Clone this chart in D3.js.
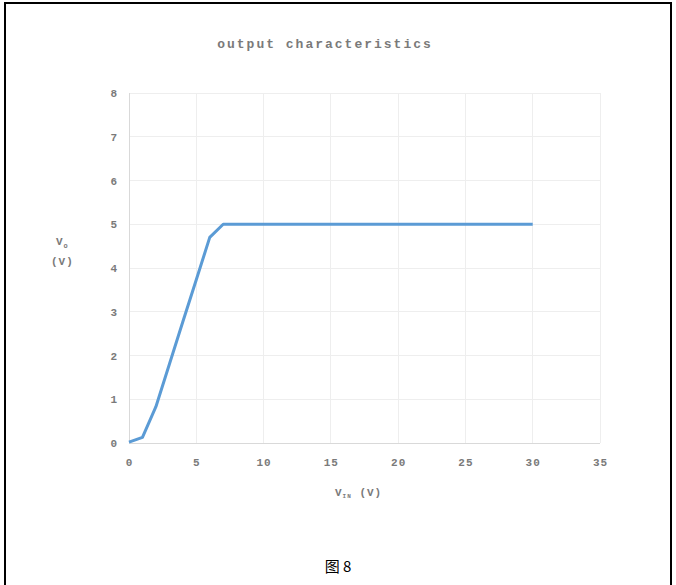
<!DOCTYPE html>
<html><head><meta charset="utf-8">
<script src="https://cdn.jsdelivr.net/npm/d3@7"></script>
<style>
html,body{margin:0;padding:0;background:#fff;}
svg{display:block;}
</style></head>
<body>
<script>
const vin = [0, 1, 2, 3, 4, 5, 6, 7, 8, 10, 15, 20, 25, 30];
const vo  = [0.02, 0.13, 0.83, 1.8, 2.77, 3.73, 4.7, 5.0, 5.0, 5.0, 5.0, 5.0, 5.0, 5.0];
const xTicks = [0, 5, 10, 15, 20, 25, 30, 35];
const yTicks = [0, 1, 2, 3, 4, 5, 6, 7, 8];
const title = "output characteristics";
const caption = "图 8";

const W = 676, H = 585;
const svg = d3.select("body").append("svg").attr("width", W).attr("height", H);

// frame
svg.append("path").attr("d", `M5,${H} L5,3 L671,3 L671,${H}`)
  .attr("fill", "none").attr("stroke", "#000").attr("stroke-width", 2);

const x = d3.scaleLinear().domain([0, 35]).range([129, 600]);
const y = d3.scaleLinear().domain([0, 8]).range([443, 93]);
const txt = "#7a7a7a";
const mono = "'Liberation Mono','DejaVu Sans Mono',monospace";

// grid
svg.append("g").selectAll("line").data(yTicks).join("line")
  .attr("x1", x(0)).attr("x2", x(35))
  .attr("y1", d => y(d)).attr("y2", d => y(d))
  .attr("stroke", d => d === 0 ? "#d9d9d9" : "#eeeeee").attr("stroke-width", 1)
  .attr("shape-rendering", "crispEdges");
svg.append("g").selectAll("line").data(xTicks).join("line")
  .attr("x1", d => x(d)).attr("x2", d => x(d))
  .attr("y1", y(0)).attr("y2", y(8))
  .attr("stroke", d => d === 0 ? "#d9d9d9" : "#eeeeee").attr("stroke-width", 1)
  .attr("shape-rendering", "crispEdges");

// axes via d3
const xAxis = d3.axisBottom(x).tickValues(xTicks).tickSize(0).tickPadding(15);
const yAxis = d3.axisLeft(y).tickValues(yTicks).tickSize(0).tickPadding(11);
const gx = svg.append("g").attr("transform", `translate(0,${y(0)})`).call(xAxis);
const gy = svg.append("g").attr("transform", `translate(${x(0)},0)`).call(yAxis);
[gx, gy].forEach(g => {
  g.select(".domain").remove();
  g.selectAll("text").attr("fill", txt).attr("font-family", mono)
    .attr("font-weight", "bold").attr("font-size", 11).attr("letter-spacing", 1);
});

// line
const data = vin.map((v, i) => [v, vo[i]]);
svg.append("path").datum(data)
  .attr("d", d3.line().x(d => x(d[0])).y(d => y(d[1])))
  .attr("fill", "none").attr("stroke", "#5b9bd5").attr("stroke-width", 3)
  .attr("stroke-linejoin", "round");

// title
svg.append("text").attr("x", 325).attr("y", 48).attr("text-anchor", "middle")
  .attr("fill", txt).attr("font-family", mono).attr("font-weight", "bold")
  .attr("font-size", 13).attr("letter-spacing", 2).text(title);

// y axis title
const yt = svg.append("text").attr("fill", txt).attr("font-family", mono)
  .attr("font-weight", "bold").attr("font-size", 11).attr("letter-spacing", 1);
yt.append("tspan").attr("x", 56).attr("y", 245).text("V");
yt.append("tspan").attr("font-size", 7).attr("dy", 3).text("o");
yt.append("tspan").attr("x", 51).attr("y", 265).text("(V)");

// x axis title
const xt = svg.append("text").attr("fill", txt).attr("font-family", mono)
  .attr("font-weight", "bold").attr("font-size", 11).attr("letter-spacing", 1);
xt.append("tspan").attr("x", 335).attr("y", 496).text("V");
xt.append("tspan").attr("font-size", 6).attr("dy", 2).text("IN");
xt.append("tspan").attr("dy", -2).text(" (V)");

// caption
svg.append("text").attr("x", 338).attr("y", 572).attr("text-anchor", "middle")
  .attr("fill", "#000").attr("font-family", "'Noto Sans CJK SC','Noto Sans',sans-serif")
  .attr("font-size", 15).text(caption);
</script>
</body></html>
